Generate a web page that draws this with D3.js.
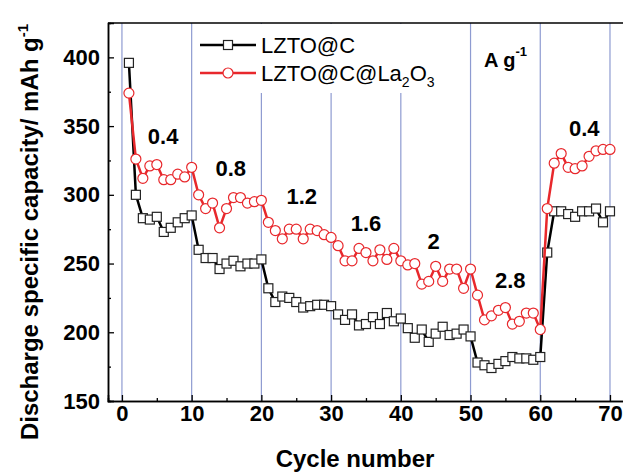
<!DOCTYPE html>
<html>
<head>
<meta http-equiv="content-type" content="text/html; charset=utf-8">
<script src="https://cdnjs.cloudflare.com/ajax/libs/d3/7.8.5/d3.min.js"></script>
<title>Rate capability</title>
<style>
body{ margin:0; padding:0; background:#fff; overflow:hidden; }
svg{ display:block; font-family:"Liberation Sans", Arial, sans-serif; }
.tick text{ font-weight:bold; font-size:22px; fill:#000; }
.domain{ stroke:#000; stroke-width:1.5; }
.tick line{ stroke:#000; stroke-width:1.3; }
</style>
</head>
<body>
<div id="chart"></div>
<script>
var cycles = d3.range(1, 71);
var lztoC = [396,300,283,282,284,273,276,280,283,285,
             260,254,254,246,250,252,248,250,250,253,
             232,222,226,225,222,218,219,220,220,219,
             213,209,213,205,206,211,206,214,208,210,
             203,196,202,193,199,204,198,199,202,197,
             178,176,174,177,179,182,181,181,180,182,
             258,288,288,286,284,288,288,290,280,288];
var lztoCLa = [374,326,312,321,322,311,311,315,313,320,
               300,290,294,276,290,298,298,294,295,296,
               280,274,268,275,275,268,275,274,271,269,
               263,252,252,261,258,252,260,253,261,252,
               249,250,235,237,248,237,246,246,232,246,
               227,209,212,216,218,206,208,214,214,202,
               290,323,330,320,319,321,328,332,333,333];
var rateLabels = ["0.4","0.8","1.2","1.6","2","2.8","0.4"];
var ratePos = [[5.9,337],[15.6,314],[25.8,293.5],[35,274],[44.7,260.5],[55.7,232],[66.3,343]];
var xTicks = d3.range(0, 71, 10);
var yTicks = d3.range(150, 401, 50);

var W = 623, H = 473;
var x = d3.scaleLinear().domain([-2, 73]).range([108, 630.9]);
var y = d3.scaleLinear().domain([150, 425]).range([401, 23]);

var svg = d3.select("#chart").append("svg").attr("width", W).attr("height", H);

// vertical separators every 10 cycles
svg.selectAll("line.sep").data(xTicks).enter().append("line")
    .attr("class", "sep")
    .attr("x1", function(d){return x(d);}).attr("x2", function(d){return x(d);})
    .attr("y1", y(425)).attr("y2", y(150))
    .attr("stroke", "#8e9bd1").attr("stroke-width", 1.2);

// legend background hides the separators behind it
svg.append("rect").attr("x", 197).attr("y", 24).attr("width", 262).attr("height", 69).attr("fill", "#fff");

// frame top
svg.append("line").attr("x1", x(-2)).attr("x2", W).attr("y1", y(425)).attr("y2", y(425))
    .attr("stroke", "#000").attr("stroke-width", 1.5);

// axes with inward ticks
var xMinor = d3.axisBottom(x).tickValues(d3.range(5, 71, 10)).tickSize(-3).tickFormat("");
var xMajor = d3.axisBottom(x).tickValues(xTicks).tickSize(-6).tickPadding(4);
var yMinor = d3.axisLeft(y).tickValues(d3.range(175, 401, 50)).tickSize(-3).tickFormat("");
var yMajor = d3.axisLeft(y).tickValues(yTicks).tickSize(-6).tickPadding(8);

svg.append("g").attr("transform", "translate(0," + y(150) + ")").call(xMinor);
svg.append("g").attr("transform", "translate(0," + y(150) + ")").call(xMajor)
    .selectAll(".tick text").attr("y", 4).attr("dy", "0.71em");
svg.append("g").attr("transform", "translate(" + x(-2) + ",0)").call(yMinor);
svg.append("g").attr("transform", "translate(" + x(-2) + ",0)").call(yMajor);

// axis titles
svg.append("text").attr("x", 355).attr("y", 467).attr("text-anchor", "middle")
    .attr("font-size", 24).attr("font-weight", "bold").text("Cycle number");
var yt = svg.append("text").attr("transform", "translate(38," + 232 + ") rotate(-90)")
    .attr("text-anchor", "middle").attr("font-size", 24).attr("font-weight", "bold");
yt.append("tspan").text("Discharge specific capacity/ mAh g");
yt.append("tspan").attr("font-size", 15).attr("dy", -10).text("-1");

// series
var line = d3.line().x(function(d){return x(d[0]);}).y(function(d){return y(d[1]);});
var blackData = cycles.map(function(c, i){return [c, lztoC[i]];});
var redData = cycles.map(function(c, i){return [c, lztoCLa[i]];});

svg.append("path").datum(blackData).attr("d", line)
    .attr("fill", "none").attr("stroke", "#000").attr("stroke-width", 2.5);
svg.selectAll("rect.sq").data(blackData).enter().append("rect")
    .attr("class", "sq")
    .attr("x", function(d){return x(d[0]) - 4.5;}).attr("y", function(d){return y(d[1]) - 4.5;})
    .attr("width", 9).attr("height", 9)
    .attr("fill", "#fff").attr("stroke", "#222").attr("stroke-width", 1.2);

svg.append("path").datum(redData).attr("d", line)
    .attr("fill", "none").attr("stroke", "#e8282c").attr("stroke-width", 2.5);
svg.selectAll("circle.ci").data(redData).enter().append("circle")
    .attr("class", "ci")
    .attr("cx", function(d){return x(d[0]);}).attr("cy", function(d){return y(d[1]);})
    .attr("r", 5)
    .attr("fill", "#fff").attr("stroke", "#e8282c").attr("stroke-width", 1.2);

// rate labels
svg.selectAll("text.rate").data(rateLabels).enter().append("text")
    .attr("class", "rate")
    .attr("x", function(d, i){return x(ratePos[i][0]);})
    .attr("y", function(d, i){return y(ratePos[i][1]);})
    .attr("text-anchor", "middle").attr("font-size", 22).attr("font-weight", "bold")
    .text(function(d){return d;});

var unit = svg.append("text").attr("x", 484).attr("y", 67).attr("font-size", 20).attr("font-weight", "bold");
unit.append("tspan").text("A g");
unit.append("tspan").attr("font-size", 13).attr("dy", -11).text("-1");

// legend
var lg = svg.append("g");
lg.append("line").attr("x1", 200).attr("x2", 256).attr("y1", 45).attr("y2", 45).attr("stroke", "#000").attr("stroke-width", 2.5);
lg.append("rect").attr("x", 223.5).attr("y", 40.5).attr("width", 9).attr("height", 9)
    .attr("fill", "#fff").attr("stroke", "#222").attr("stroke-width", 1.2);
lg.append("text").attr("x", 261).attr("y", 53).attr("font-size", 22).text("LZTO@C");
lg.append("line").attr("x1", 200).attr("x2", 256).attr("y1", 73).attr("y2", 73).attr("stroke", "#e8282c").attr("stroke-width", 2.5);
lg.append("circle").attr("cx", 228).attr("cy", 73).attr("r", 5)
    .attr("fill", "#fff").attr("stroke", "#e8282c").attr("stroke-width", 1.2);
var t2 = lg.append("text").attr("x", 261).attr("y", 81).attr("font-size", 22);
t2.append("tspan").text("LZTO@C@La");
t2.append("tspan").attr("font-size", 14).attr("dy", 6).text("2");
t2.append("tspan").attr("dy", -6).text("O");
t2.append("tspan").attr("font-size", 14).attr("dy", 6).text("3");
</script>
</body>
</html>
